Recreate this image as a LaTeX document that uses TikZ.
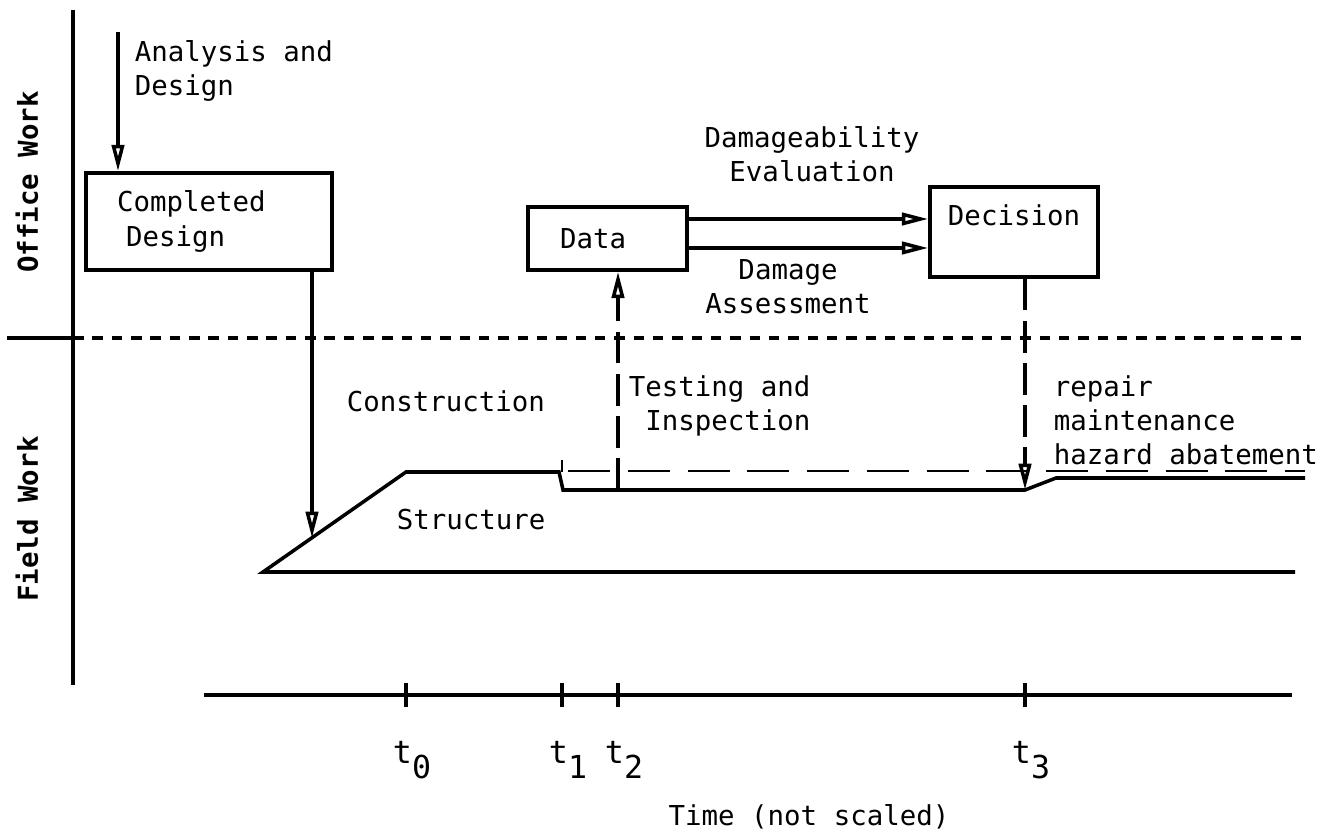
\documentclass[tikz,border=0pt]{standalone}
\usepackage{fontspec}
\setmainfont{DejaVu Sans Mono}
\usetikzlibrary{arrows.meta}

\begin{document}
\begin{tikzpicture}[>={Triangle[open, length=7.5pt, width=3.5pt]}, line width=1pt,
        box/.style={draw, inner ysep=0pt, minimum height=#1},
        lab/.style={inner sep=0pt, align=left},
        cut/.style={dash pattern=on 9pt off 3pt}]
    \fontsize{7.8pt}{9.7pt}\selectfont
    \useasboundingbox (0,0) rectangle (13.34,8.34);
    \newcommand{\timemark}[2]{
        \draw (#1,1.27) -- (#1,1.51);
        \node[anchor=north, inner sep=0pt, font=\fontsize{9pt}{11pt}\selectfont] (tl#2) at (#1+0.06,0.94) {t\raisebox{-1.5mm}{#2}};
    }
    \draw (0.73,8.24) -- (0.73,1.49);
    \draw (0.07,4.96) -- (0.73,4.96);
    \draw[dash pattern=on 3pt off 2.5pt] (0.73,4.96) -- (13.01,4.96);
    \node[rotate=90, font=\bfseries] (office) at (0.27,6.52) {Office Work};
    \node[rotate=90, font=\bfseries] (field) at (0.27,3.15) {Field Work};

    \node[box=0.97cm, text width=1.84cm, inner xsep=3.1mm, align=left] (design) at (2.09,6.125) {Completed\\~Design};
    \node[box=0.63cm, text width=0.95cm, inner xsep=3.2mm, align=left] (data) at (6.075,5.955) {Data};
    \node[box=0.90cm, text width=1.38cm, inner xsep=1.5mm, align=center] (decision) at (10.14,6.02) {Decision\\~};

    \coordinate (ana) at (1.18,8.02);
    \draw[->] (ana) -- (ana |- design.north);
    \node[lab, anchor=north west] (analysis) at (1.33,7.95) {Analysis and\\Design};

    \draw[->] ([yshift=1.95mm]data.east) -- ([yshift=1.95mm]data.east -| decision.west);
    \draw[->] ([yshift=-0.95mm]data.east) -- ([yshift=-0.95mm]data.east -| decision.west);
    \node[lab, align=center, anchor=north] (evaluation) at (8.12,7.09) {Damageability\\Evaluation};
    \node[lab, align=center, anchor=north] (assessment) at (7.88,5.76) {Damage\\Assessment};

    \coordinate (hit) at (3.12,2.96);
    \coordinate (s2) at (6.18,3.44);
    \coordinate (s3) at (10.25,3.44);
    \draw (12.95,2.62) -- (2.63,2.62) -- (4.06,3.62) -- (5.59,3.62) -- (5.63,3.44) -- (s2) -- (s3) -- (10.56,3.56) -- (13.05,3.56);
    \draw[semithick] (5.62,3.62) -- (5.62,3.74);
    \draw[semithick, dash pattern=on 12pt off 5pt] (5.68,3.63) -- (13.05,3.63);

    \draw[->] (design.south -| hit) -- (hit);
    \draw[->, cut] (s2) -- (data.south -| s2);
    \draw[->, cut] (decision.south -| s3) -- (s3);

    \node[lab, anchor=north west] (construction) at (3.45,4.45) {Construction};
    \node[lab, anchor=north west] (structure) at (3.95,3.27) {Structure};
    \node[lab, anchor=north west] (testing) at (6.27,4.60) {Testing and\\~Inspection};
    \node[lab, anchor=north west] (repair) at (10.52,4.60) {repair\\maintenance\\hazard abatement};

    \draw (2.04,1.39) -- (12.92,1.39);
    \timemark{4.06}{0}
    \timemark{5.62}{1}
    \timemark{6.18}{2}
    \timemark{10.25}{3}
    \node[inner sep=0pt, anchor=base] (time) at (8.09,0.09) {Time (not scaled)};
\end{tikzpicture}
\end{document}
